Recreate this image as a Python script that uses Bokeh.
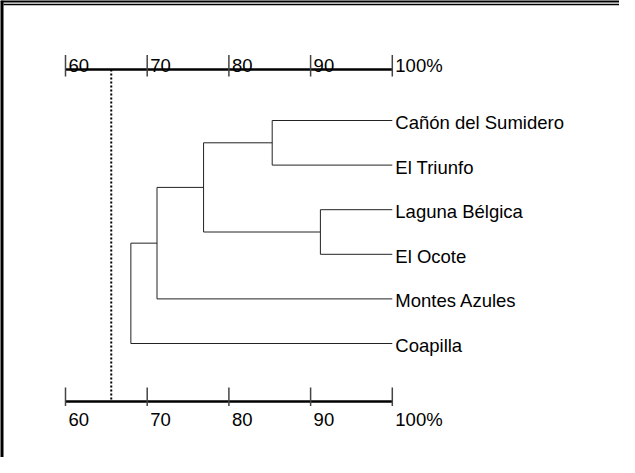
from bokeh.plotting import figure
from bokeh.models import Range1d
from bokeh.core.properties import value
from bokeh.embed import file_html
from bokeh.resources import INLINE

# ---- data ----
leaves = ["Cañón del Sumidero", "El Triunfo", "Laguna Bélgica", "El Ocote", "Montes Azules", "Coapilla"]
# merges: (cluster a, cluster b, similarity %) ; new cluster ids start at len(leaves)
merge_a = [0, 2, 6, 8, 9]
merge_b = [1, 3, 7, 4, 5]
merge_level = [85.3, 91.2, 76.9, 71.2, 68.0]
cutoff = 65.6
tick_values = [60, 70, 80, 90, 100]
tick_labels = ["60", "70", "80", "90", "100%"]

# ---- layout constants (pixels) ----
W, H = 619, 457
SX = 8.17            # px per % unit
X60 = 65             # figure px of 60 %
Y0, DY = 120, 44.6   # figure px of first leaf, leaf spacing
FONT = value("Liberation Sans")
FS = "18.5px"

x_lo = 60 - X60 / SX
x_hi = x_lo + W / SX
y_top = -Y0 / DY
y_bot = (H - Y0) / DY

def fx(px):
    return x_lo + px / SX

def fy(py):
    return (py - Y0) / DY

p = figure(width=W, height=H, output_backend="svg", toolbar_location=None,
           x_range=Range1d(x_lo, x_hi), y_range=Range1d(y_bot, y_top),
           min_border=0, x_axis_type=None, y_axis_type=None)
p.grid.visible = False
p.outline_line_color = None
p.background_fill_color = "white"
p.border_fill_color = "white"

# ---- frame decoration (top/left) ----
p.segment(x0=[fx(0)], y0=[fy(0.5)], x1=[fx(W)], y1=[fy(0.5)], line_color="black", line_width=3)
p.segment(x0=[fx(1)], y0=[fy(0)], x1=[fx(1)], y1=[fy(H)], line_color="black", line_width=4)
p.segment(x0=[fx(3)], y0=[fy(4)], x1=[fx(W)], y1=[fy(4)], line_color="black", line_width=1.5)

# ---- dendrogram ----
n = len(leaves)
node_x = [100.0] * n
node_y = [float(i) for i in range(n)]
sx0, sy0, sx1, sy1 = [], [], [], []
for a, b, lev in zip(merge_a, merge_b, merge_level):
    ya, yb = node_y[a], node_y[b]
    sx0.append(lev); sy0.append(ya); sx1.append(lev); sy1.append(yb)
    sx0.append(lev); sy0.append(ya); sx1.append(node_x[a]); sy1.append(ya)
    sx0.append(lev); sy0.append(yb); sx1.append(node_x[b]); sy1.append(yb)
    node_x.append(lev)
    node_y.append((ya + yb) / 2)
p.segment(x0=sx0, y0=sy0, x1=sx1, y1=sy1, line_color="#222222", line_width=1)

p.text(x=[100] * n, y=list(range(n)), text=leaves, text_font=FONT, text_font_size=FS,
       text_color="black", text_baseline="middle", text_align="left", x_offset=3, y_offset=2)

# ---- scales (top and bottom) ----
top_y = fy(69)
bot_y = fy(401)
for ay, t0, t1, lab_y in [(top_y, fy(54.5), fy(76), fy(65)), (bot_y, fy(387), fy(405.5), fy(419))]:
    p.segment(x0=[tick_values[0]], y0=[ay], x1=[tick_values[-1]], y1=[ay], line_color="black", line_width=2.5)
    p.segment(x0=tick_values, y0=[t0] * len(tick_values), x1=tick_values, y1=[t1] * len(tick_values),
              line_color="#444444", line_width=1.5)
    p.text(x=tick_values, y=[lab_y] * len(tick_values), text=tick_labels, text_font=FONT,
           text_font_size=FS, text_color="black", text_baseline="alphabetic", text_align="left", x_offset=3)

# ---- cutoff (dotted) ----
p.segment(x0=[cutoff], y0=[top_y], x1=[cutoff], y1=[bot_y], line_color="black", line_width=2, line_dash="2 2")

open("out.html", "w").write(file_html(p, INLINE))
